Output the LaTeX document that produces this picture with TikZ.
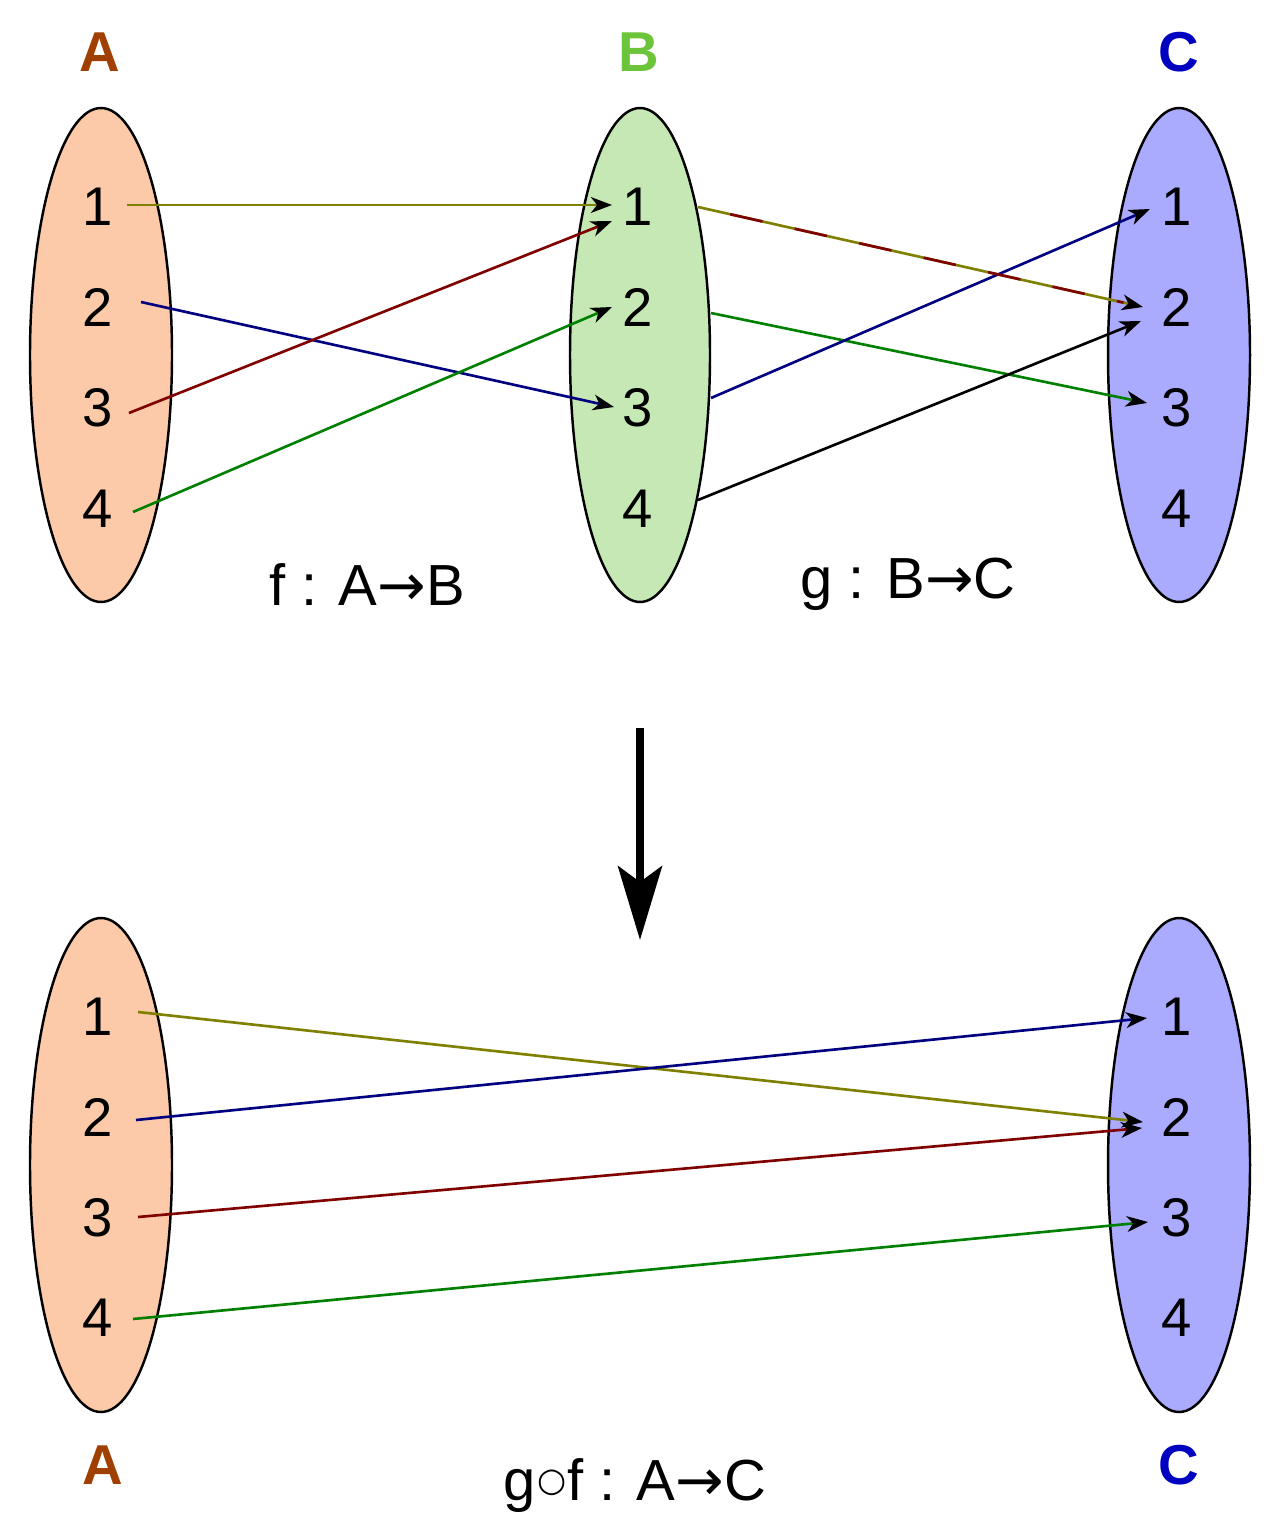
\documentclass[tikz,border=0pt]{standalone}
\usepackage{fontspec}
\setmainfont{Liberation Sans}
\newfontfamily\symfont{DejaVu Sans}
\usetikzlibrary{arrows.meta}
\definecolor{setA}{RGB}{252,202,168}
\definecolor{setB}{RGB}{198,232,180}
\definecolor{setC}{RGB}{170,170,255}
\definecolor{nameA}{RGB}{160,64,0}
\definecolor{nameB}{RGB}{108,196,58}
\definecolor{nameC}{RGB}{0,0,192}
\definecolor{mapolive}{RGB}{128,128,0}
\definecolor{mapred}{RGB}{128,0,0}
\definecolor{mapblue}{RGB}{0,0,128}
\definecolor{mapgreen}{RGB}{0,128,0}
\newcommand{\maparrow}{{\symfont →}}
\newcommand{\compring}{\kern0.5pt\raisebox{5pt}{\symfont\fontsize{19}{19}\selectfont ○}\kern0.5pt}

\begin{document}
\begin{tikzpicture}[x=0.02cm,y=-0.02cm,line width=1.5pt,
  set/.style={draw=black,line width=1.4pt},
  elem/.style={inner sep=0pt,font=\fontsize{31}{36}\selectfont},
  setname/.style={inner sep=0pt,font=\fontsize{32}{38}\selectfont\bfseries},
  maplabel/.style={anchor=base,inner sep=0pt,font=\fontsize{33}{40}\selectfont},
  map/.style={-{Stealth[length=12pt,width=9pt,inset=3.5pt,color=black]}}]
  \useasboundingbox (0,0) rectangle (1280,1540);
  % f and g
  \filldraw[set,fill=setA] (101,355) ellipse [x radius=71,y radius=247];
  \filldraw[set,fill=setB] (640,355) ellipse [x radius=70,y radius=247];
  \filldraw[set,fill=setC] (1179,355) ellipse [x radius=71,y radius=247];
  \node[setname,text=nameA] (nA) at (100,52) {A};
  \node[setname,text=nameB] (nB) at (639,52) {B};
  \node[setname,text=nameC] (nC) at (1179,52) {C};
  \foreach \i/\y in {1/207,2/307,3/408,4/509}{
    \node[elem] (a\i) at (98,\y) {\i};
    \node[elem] (b\i) at (638,\y) {\i};
    \node[elem] (c\i) at (1177,\y) {\i};
  }
  \foreach \s/\t/\c/\p/\q in {a1/b1/mapolive/{29,-2}/{-26,-2},
      a2/b3/mapblue/{43,-5}/{-24,-1}, a3/b1/mapred/{31,5}/{-26,14},
      a4/b2/mapgreen/{35,3}/{-26,0}, b1/c2/mapolive/{60,0}/{-34,0},
      b2/c3/mapgreen/{73,6}/{-30,-5}, b3/c1/mapblue/{73,-10}/{-27,2},
      b4/c2/black/{60,-9}/{-36,14}}
    \draw[map,\c] ([shift={(\p)}]\s.center) -- ([shift={(\q)}]\t.center);
  \draw[mapred,dash pattern=on 18.8pt off 18.8pt,dash phase=18.8pt,
    shorten >=0.4cm] ([shift={(60,0)}]b1.center) -- ([shift={(-34,0)}]c2.center);
  \node[maplabel] (f) at (367,605) {f : A\maparrow B};
  \node[maplabel] (g) at (908,598) {g : B\maparrow C};
  % composition
  \coordinate (top) at (640,728);
  \coordinate (bot) at (640,940);
  \draw[line width=4.5pt,-{Stealth[length=42pt,width=25pt,inset=9pt]}] (top) -- (bot);
  \filldraw[set,fill=setA] (101,1165) ellipse [x radius=71,y radius=247];
  \filldraw[set,fill=setC] (1179,1165) ellipse [x radius=71,y radius=247];
  \foreach \i/\y in {1/1017,2/1117,3/1218,4/1318}{
    \node[elem] (p\i) at (98,\y) {\i};
    \node[elem] (q\i) at (1177,\y) {\i};
  }
  \foreach \s/\t/\c/\p/\q in {p1/q2/mapolive/{40,-5}/{-34,5},
      p2/q1/mapblue/{38,3}/{-30,1}, p3/q2/mapred/{40,-1}/{-35,11},
      p4/q3/mapgreen/{35,1}/{-29,4}}
    \draw[map,\c] ([shift={(\p)}]\s.center) -- ([shift={(\q)}]\t.center);
  \node[setname,text=nameA] (mA) at (103,1465) {A};
  \node[setname,text=nameC] (mC) at (1179,1465) {C};
  \node[maplabel] (gf) at (635,1500) {g\compring f : A\maparrow C};
\end{tikzpicture}
\end{document}
